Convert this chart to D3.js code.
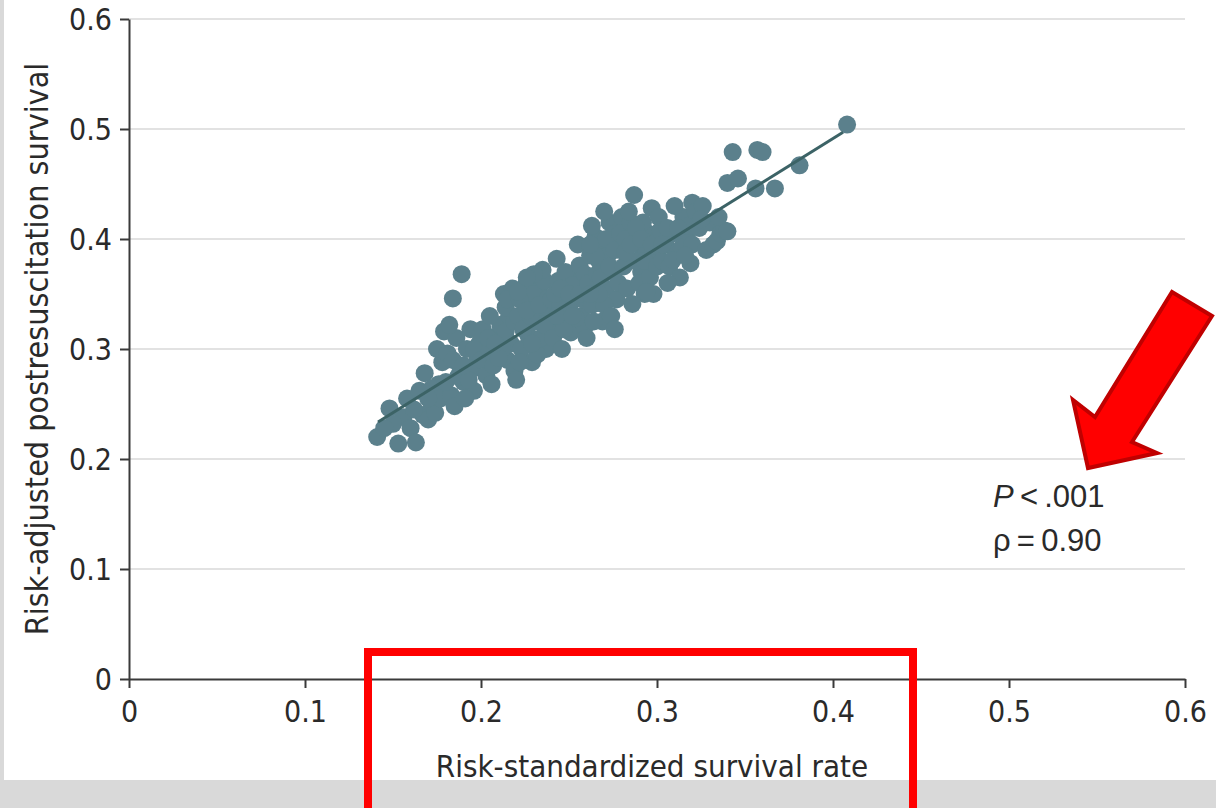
<!DOCTYPE html>
<html>
<head>
<meta charset="utf-8">
<script src="https://cdn.jsdelivr.net/npm/d3@7"></script>
<style>
  html, body { margin: 0; padding: 0; background: #d9d9d9; }
  svg { display: block; }
  .tick-label { font-family: "DejaVu Sans Condensed", "Liberation Sans Narrow", sans-serif; font-size: 30px; fill: #2a2a2a; }
  .axis-title { font-family: "DejaVu Sans Condensed", "Liberation Sans Narrow", sans-serif; font-size: 31px; fill: #2a2a2a; }
  .stat { font-family: "Liberation Sans", "Open Sans", sans-serif; font-size: 31px; fill: #2a2a2a; }
</style>
</head>
<body>
<div id="chart"></div>
<script>
var WIDTH = 1216
var HEIGHT = 808

var xTicks = [0, 0.1, 0.2, 0.3, 0.4, 0.5, 0.6]
var yTicks = [0, 0.1, 0.2, 0.3, 0.4, 0.5, 0.6]
var xTickLabels = ['0', '0.1', '0.2', '0.3', '0.4', '0.5', '0.6']
var yTickLabels = ['0', '0.1', '0.2', '0.3', '0.4', '0.5', '0.6']

var xTitle = 'Risk-standardized survival rate'
var yTitle = 'Risk-adjusted postresuscitation survival'

// hospitals: [risk-standardized survival, risk-adjusted postresuscitation survival]
var hospitals = [
    [0.141, 0.220], [0.148, 0.246], [0.153, 0.214], [0.156, 0.238], [0.150, 0.232],
    [0.160, 0.228], [0.163, 0.215], [0.158, 0.255], [0.145, 0.228],
    [0.165, 0.262], [0.167, 0.240], [0.170, 0.236], [0.172, 0.250], [0.168, 0.278],
    [0.174, 0.242], [0.176, 0.268], [0.178, 0.288], [0.175, 0.300], [0.179, 0.316],
    [0.172, 0.264], [0.177, 0.255], [0.162, 0.245], [0.170, 0.255],
    [0.184, 0.346], [0.189, 0.368],
    [0.181, 0.296], [0.183, 0.258], [0.185, 0.248], [0.186, 0.310], [0.188, 0.285],
    [0.190, 0.270], [0.192, 0.300], [0.194, 0.318], [0.196, 0.262], [0.198, 0.290],
    [0.182, 0.322], [0.187, 0.275], [0.195, 0.282], [0.199, 0.305], [0.193, 0.272],
    [0.191, 0.255], [0.180, 0.270], [0.184, 0.290], [0.190, 0.285], [0.196, 0.300],
    [0.200, 0.290],
    [0.201, 0.318], [0.203, 0.276], [0.205, 0.298], [0.207, 0.285], [0.209, 0.312],
    [0.211, 0.322], [0.213, 0.350], [0.215, 0.290], [0.217, 0.305], [0.219, 0.280],
    [0.206, 0.268], [0.212, 0.300], [0.216, 0.330], [0.218, 0.355], [0.204, 0.310],
    [0.210, 0.292], [0.220, 0.272], [0.214, 0.316], [0.205, 0.330], [0.208, 0.305],
    [0.214, 0.338], [0.219, 0.325], [0.215, 0.345],
    [0.221, 0.330], [0.223, 0.300], [0.225, 0.345], [0.227, 0.312], [0.229, 0.288],
    [0.231, 0.325], [0.233, 0.355], [0.235, 0.338], [0.237, 0.300], [0.239, 0.318],
    [0.222, 0.288], [0.226, 0.360], [0.230, 0.350], [0.234, 0.310], [0.238, 0.346],
    [0.224, 0.318], [0.228, 0.330], [0.232, 0.295], [0.236, 0.362], [0.240, 0.330],
    [0.222, 0.345], [0.226, 0.335], [0.229, 0.305], [0.233, 0.340], [0.236, 0.322],
    [0.240, 0.345], [0.235, 0.372], [0.230, 0.368], [0.221, 0.352], [0.226, 0.365],
    [0.241, 0.310], [0.243, 0.382], [0.245, 0.340], [0.247, 0.325], [0.249, 0.355],
    [0.251, 0.315], [0.253, 0.345], [0.255, 0.365], [0.257, 0.330], [0.259, 0.320],
    [0.242, 0.350], [0.244, 0.362], [0.246, 0.300], [0.248, 0.370], [0.250, 0.338],
    [0.252, 0.358], [0.254, 0.328], [0.256, 0.376], [0.258, 0.345], [0.260, 0.310],
    [0.247, 0.318], [0.255, 0.395], [0.243, 0.330], [0.245, 0.355], [0.250, 0.350],
    [0.252, 0.330], [0.256, 0.350], [0.259, 0.368],
    [0.261, 0.360], [0.263, 0.340], [0.265, 0.402], [0.267, 0.380], [0.269, 0.325],
    [0.271, 0.355], [0.273, 0.415], [0.275, 0.370], [0.277, 0.345], [0.279, 0.390],
    [0.262, 0.385], [0.264, 0.325], [0.266, 0.368], [0.268, 0.395], [0.270, 0.340],
    [0.272, 0.385], [0.274, 0.330], [0.276, 0.405], [0.278, 0.360], [0.280, 0.420],
    [0.263, 0.412], [0.270, 0.425], [0.276, 0.318], [0.267, 0.350], [0.262, 0.350],
    [0.265, 0.385], [0.268, 0.365], [0.271, 0.400], [0.273, 0.375], [0.276, 0.390],
    [0.279, 0.405], [0.262, 0.395],
    [0.281, 0.375], [0.283, 0.355], [0.285, 0.415], [0.287, 0.440], [0.289, 0.395],
    [0.291, 0.370], [0.293, 0.350], [0.295, 0.405], [0.297, 0.428], [0.299, 0.385],
    [0.282, 0.400], [0.284, 0.425], [0.286, 0.341], [0.288, 0.380], [0.290, 0.360],
    [0.292, 0.415], [0.294, 0.390], [0.296, 0.365], [0.298, 0.350], [0.300, 0.398],
    [0.294, 0.352], [0.282, 0.388], [0.285, 0.395], [0.288, 0.410], [0.291, 0.400],
    [0.293, 0.380], [0.297, 0.395], [0.300, 0.375],
    [0.301, 0.420], [0.303, 0.380], [0.305, 0.395], [0.307, 0.375], [0.309, 0.405],
    [0.311, 0.388], [0.313, 0.365], [0.315, 0.420], [0.317, 0.400], [0.319, 0.378],
    [0.302, 0.408], [0.306, 0.360], [0.310, 0.430], [0.314, 0.392], [0.318, 0.412],
    [0.320, 0.395], [0.309, 0.381], [0.303, 0.395], [0.306, 0.410], [0.312, 0.410],
    [0.316, 0.385],
    [0.320, 0.433], [0.322, 0.425], [0.324, 0.410], [0.326, 0.430], [0.328, 0.390],
    [0.330, 0.415], [0.332, 0.395], [0.334, 0.398], [0.336, 0.405], [0.338, 0.408],
    [0.325, 0.418], [0.335, 0.420], [0.340, 0.407],
    [0.343, 0.479], [0.357, 0.481], [0.360, 0.479], [0.340, 0.451], [0.346, 0.455],
    [0.356, 0.446], [0.367, 0.446], [0.381, 0.467], [0.408, 0.504]
]

// fitted line endpoints
var fitX = [0.1415, 0.4057]
var fitY = [0.2336, 0.4970]

var margin = { top: 19, right: 31, bottom: 129, left: 129 }

var svg = d3.select('#chart')
    .append('svg')
    .attr('width', WIDTH)
    .attr('height', HEIGHT)

// white page panel
svg.append('rect')
    .attr('x', 4)
    .attr('y', 0)
    .attr('width', WIDTH - 4)
    .attr('height', 780)
    .attr('fill', '#ffffff')

var x = d3.scaleLinear()
    .domain([0, 0.6])
    .range([margin.left, WIDTH - margin.right])

var y = d3.scaleLinear()
    .domain([0, 0.6])
    .range([HEIGHT - margin.bottom, margin.top])

// gridlines
svg.append('g')
    .selectAll('line')
    .data(yTicks.filter(function (d) { return d > 0 }))
    .enter().append('line')
    .attr('x1', x(0))
    .attr('x2', x(0.6))
    .attr('y1', function (d) { return y(d) })
    .attr('y2', function (d) { return y(d) })
    .attr('stroke', '#e2e2e2')
    .attr('stroke-width', 2)

var xAxis = d3.axisBottom(x)
    .tickValues(xTicks)
    .tickFormat(function (d, i) { return xTickLabels[i] })
    .tickSize(9)
    .tickSizeOuter(0)
    .tickPadding(7)

var yAxis = d3.axisLeft(y)
    .tickValues(yTicks)
    .tickFormat(function (d, i) { return yTickLabels[i] })
    .tickSize(9)
    .tickSizeOuter(0)
    .tickPadding(8)

var gx = svg.append('g')
    .attr('transform', 'translate(0,' + y(0) + ')')
    .call(xAxis)

var gy = svg.append('g')
    .attr('transform', 'translate(' + x(0) + ',0)')
    .call(yAxis)

;[gx, gy].forEach(function (g) {
    g.select('.domain').attr('stroke', '#3a3a3a').attr('stroke-width', 2)
    g.selectAll('.tick line').attr('stroke', '#3a3a3a').attr('stroke-width', 2)
    g.selectAll('.tick text')
        .attr('class', 'tick-label')
        .attr('fill', null)
    g.attr('font-size', null).attr('font-family', null)
})

gx.selectAll('.tick text').attr('dy', '0.9em')
gy.selectAll('.tick text').attr('dy', '0.36em')

// points
svg.append('g')
    .selectAll('circle')
    .data(hospitals)
    .enter().append('circle')
    .attr('cx', function (d) { return x(d[0]) })
    .attr('cy', function (d) { return y(d[1]) })
    .attr('r', 9)
    .attr('fill', '#5b808c')

// fitted line
svg.append('line')
    .attr('x1', x(fitX[0]))
    .attr('y1', y(fitY[0]))
    .attr('x2', x(fitX[1]))
    .attr('y2', y(fitY[1]))
    .attr('stroke', '#3c6366')
    .attr('stroke-width', 3)

// axis titles
svg.append('text')
    .attr('class', 'axis-title')
    .attr('x', 652)
    .attr('y', 777)
    .attr('text-anchor', 'middle')
    .text(xTitle)

svg.append('text')
    .attr('class', 'axis-title')
    .style('font-size', '32px')
    .attr('transform', 'translate(48,349) rotate(-90)')
    .attr('text-anchor', 'middle')
    .text(yTitle)

// statistics
var stat1 = svg.append('text').attr('class', 'stat').attr('x', 993).attr('y', 507)
stat1.append('tspan').style('font-style', 'italic').text('P')
stat1.append('tspan').text('\u2009<\u2009.001')

svg.append('text').attr('class', 'stat').attr('x', 993).attr('y', 551)
    .text('\u03c1\u2009=\u20090.90')

// red highlight box around the x-axis title
svg.append('rect')
    .attr('x', 368)
    .attr('y', 652)
    .attr('width', 545)
    .attr('height', 200)
    .attr('fill', 'none')
    .attr('stroke', '#ff0000')
    .attr('stroke-width', 8)

// red arrow pointing at the statistics
var arrow = [[1172, 292], [1212, 316], [1132, 442], [1157, 453], [1088, 468], [1073, 400], [1095, 417]]
svg.append('path')
    .attr('d', d3.line()(arrow) + 'Z')
    .attr('fill', '#ff0000')
    .attr('stroke', '#c00000')
    .attr('stroke-width', 4)
    .attr('stroke-linejoin', 'miter')
</script>
</body>
</html>
